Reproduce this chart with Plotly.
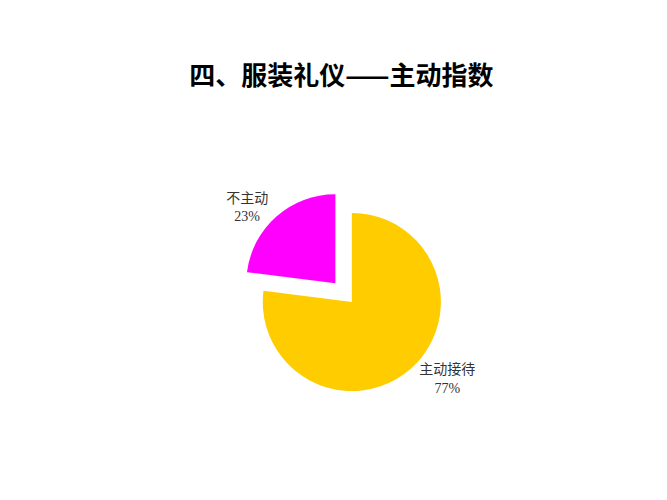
import plotly.graph_objects as go

labels = ["主动接待", "不主动"]
values = [77, 23]
colors = ["#FFCC00", "#FF00FF"]
pulls = [0, 0.28]

fig = go.Figure(go.Pie(
    labels=labels,
    values=values,
    pull=pulls,
    sort=False,
    direction="clockwise",
    rotation=0,
    marker=dict(colors=colors, line=dict(width=0)),
    texttemplate="%{label}<br>%{percent:.0%}",
    textposition="outside",
    outsidetextfont=dict(family="Liberation Serif, Noto Sans CJK SC", size=14, color="#333333"),
    showlegend=False,
    domain=dict(x=[0.3445, 0.6865], y=[0.184, 0.64]),
))

fig.update_layout(
    width=667, height=500,
    margin=dict(l=0, r=0, t=0, b=0),
    paper_bgcolor="white",
    title=dict(text="<b>四、服装礼仪——主动指数</b>", x=0.5, xanchor="center",
               y=1 - 68 / 500, yanchor="middle",
               font=dict(family="Noto Sans CJK SC", size=26, color="black")),
)

fig.write_html("out.html")
